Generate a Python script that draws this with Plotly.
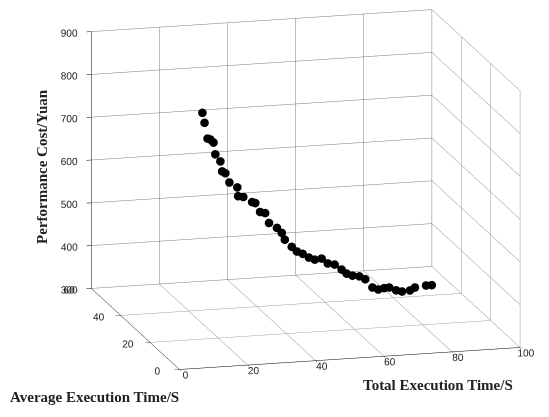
import plotly.graph_objects as go

# Data
total_time = [17.5, 18.3, 19.4, 20.4, 21.5, 22.2, 23.9, 24.6, 25.7, 27.1, 29.6, 30.0, 31.7, 34.5, 35.6,
              37.2, 38.9, 40.2, 42.7, 44.3, 45.4, 47.6, 49.3, 51.2, 53.2, 55.1, 57.3, 59.3, 61.5, 63.7,
              65.4, 67.3, 69.5, 71.4, 73.7, 75.6, 77.5, 79.2, 81.4, 83.3, 85.8, 87.4, 90.8, 92.6]
avg_time = [25.0, 25.4, 25.9, 26.3, 26.7, 27.1, 27.6, 28.0, 28.4, 28.9, 29.3, 29.7, 30.1, 30.6, 31.0,
            31.4, 31.9, 32.3, 32.7, 33.1, 33.6, 34.0, 34.4, 34.9, 35.3, 35.7, 36.1, 36.6, 37.0, 37.4,
            37.9, 38.3, 38.7, 39.1, 39.6, 40.0, 40.4, 40.9, 41.3, 41.7, 42.1, 42.4, 42.7, 43.0]
cost = [812, 787, 748, 744, 735, 706, 687, 662, 656, 632, 618, 596, 592, 577, 573,
        550, 545, 520, 506, 492, 474, 455, 442, 434, 423, 416, 416, 402, 397, 383,
        371, 364, 360, 351, 329, 322, 323, 322, 313, 308, 308, 313, 315, 314]

x_ticks = [0, 20, 40, 60, 80, 100]
y_ticks = [0, 20, 40, 60]
z_ticks = [300, 400, 500, 600, 700, 800, 900]

fig = go.Figure(go.Scatter3d(
    x=total_time, y=avg_time, z=cost, mode="markers",
    marker=dict(size=5, color="black", line=dict(width=0)),
))

axis_common = dict(
    showbackground=False, gridcolor="#7a7a7a", gridwidth=1,
    showline=True, linecolor="black", linewidth=1,
    ticks="outside", ticklen=5, tickcolor="black", tickangle=0,
    tickfont=dict(family="Liberation Sans", size=11, color="#222"),
    zeroline=False, showspikes=False, title=dict(text=""),
)

title_font = dict(family="Liberation Serif", size=15, color="#222")

fig.update_layout(
    width=549, height=417, paper_bgcolor="white", plot_bgcolor="white",
    margin=dict(l=0, r=0, t=0, b=0),
    showlegend=False,
    scene=dict(
        domain=dict(x=[0.0, 1.0], y=[0.0, 1.0]),
        xaxis=dict(axis_common, range=[0, 100], tickvals=x_ticks),
        yaxis=dict(axis_common, range=[0, 60], tickvals=y_ticks),
        zaxis=dict(axis_common, range=[300, 900], tickvals=z_ticks),
        aspectmode="manual", aspectratio=dict(x=1.69, y=1.65, z=1.27),
        camera=dict(eye=dict(x=-0.38, y=-1.0, z=0.134), up=dict(x=0, y=0, z=1),
                    center=dict(x=-0.115, y=0, z=-0.126),
                    projection=dict(type="orthographic")),
    ),
    annotations=[
        dict(text="<b>Performance Cost/Yuan</b>", x=0.062, y=0.619, xref="paper", yref="paper",
             xanchor="center", yanchor="middle",
             textangle=-90, showarrow=False, font=title_font),
        dict(text="<b>Total Execution Time/S</b>", x=0.783, y=0.096, xref="paper", yref="paper",
             xanchor="center", yanchor="middle", showarrow=False, font=title_font),
        dict(text="<b>Average Execution Time/S</b>", x=0.158, y=0.067, xref="paper", yref="paper",
             xanchor="center", yanchor="middle", showarrow=False, font=title_font),
    ],
)

fig.write_html("out.html")
